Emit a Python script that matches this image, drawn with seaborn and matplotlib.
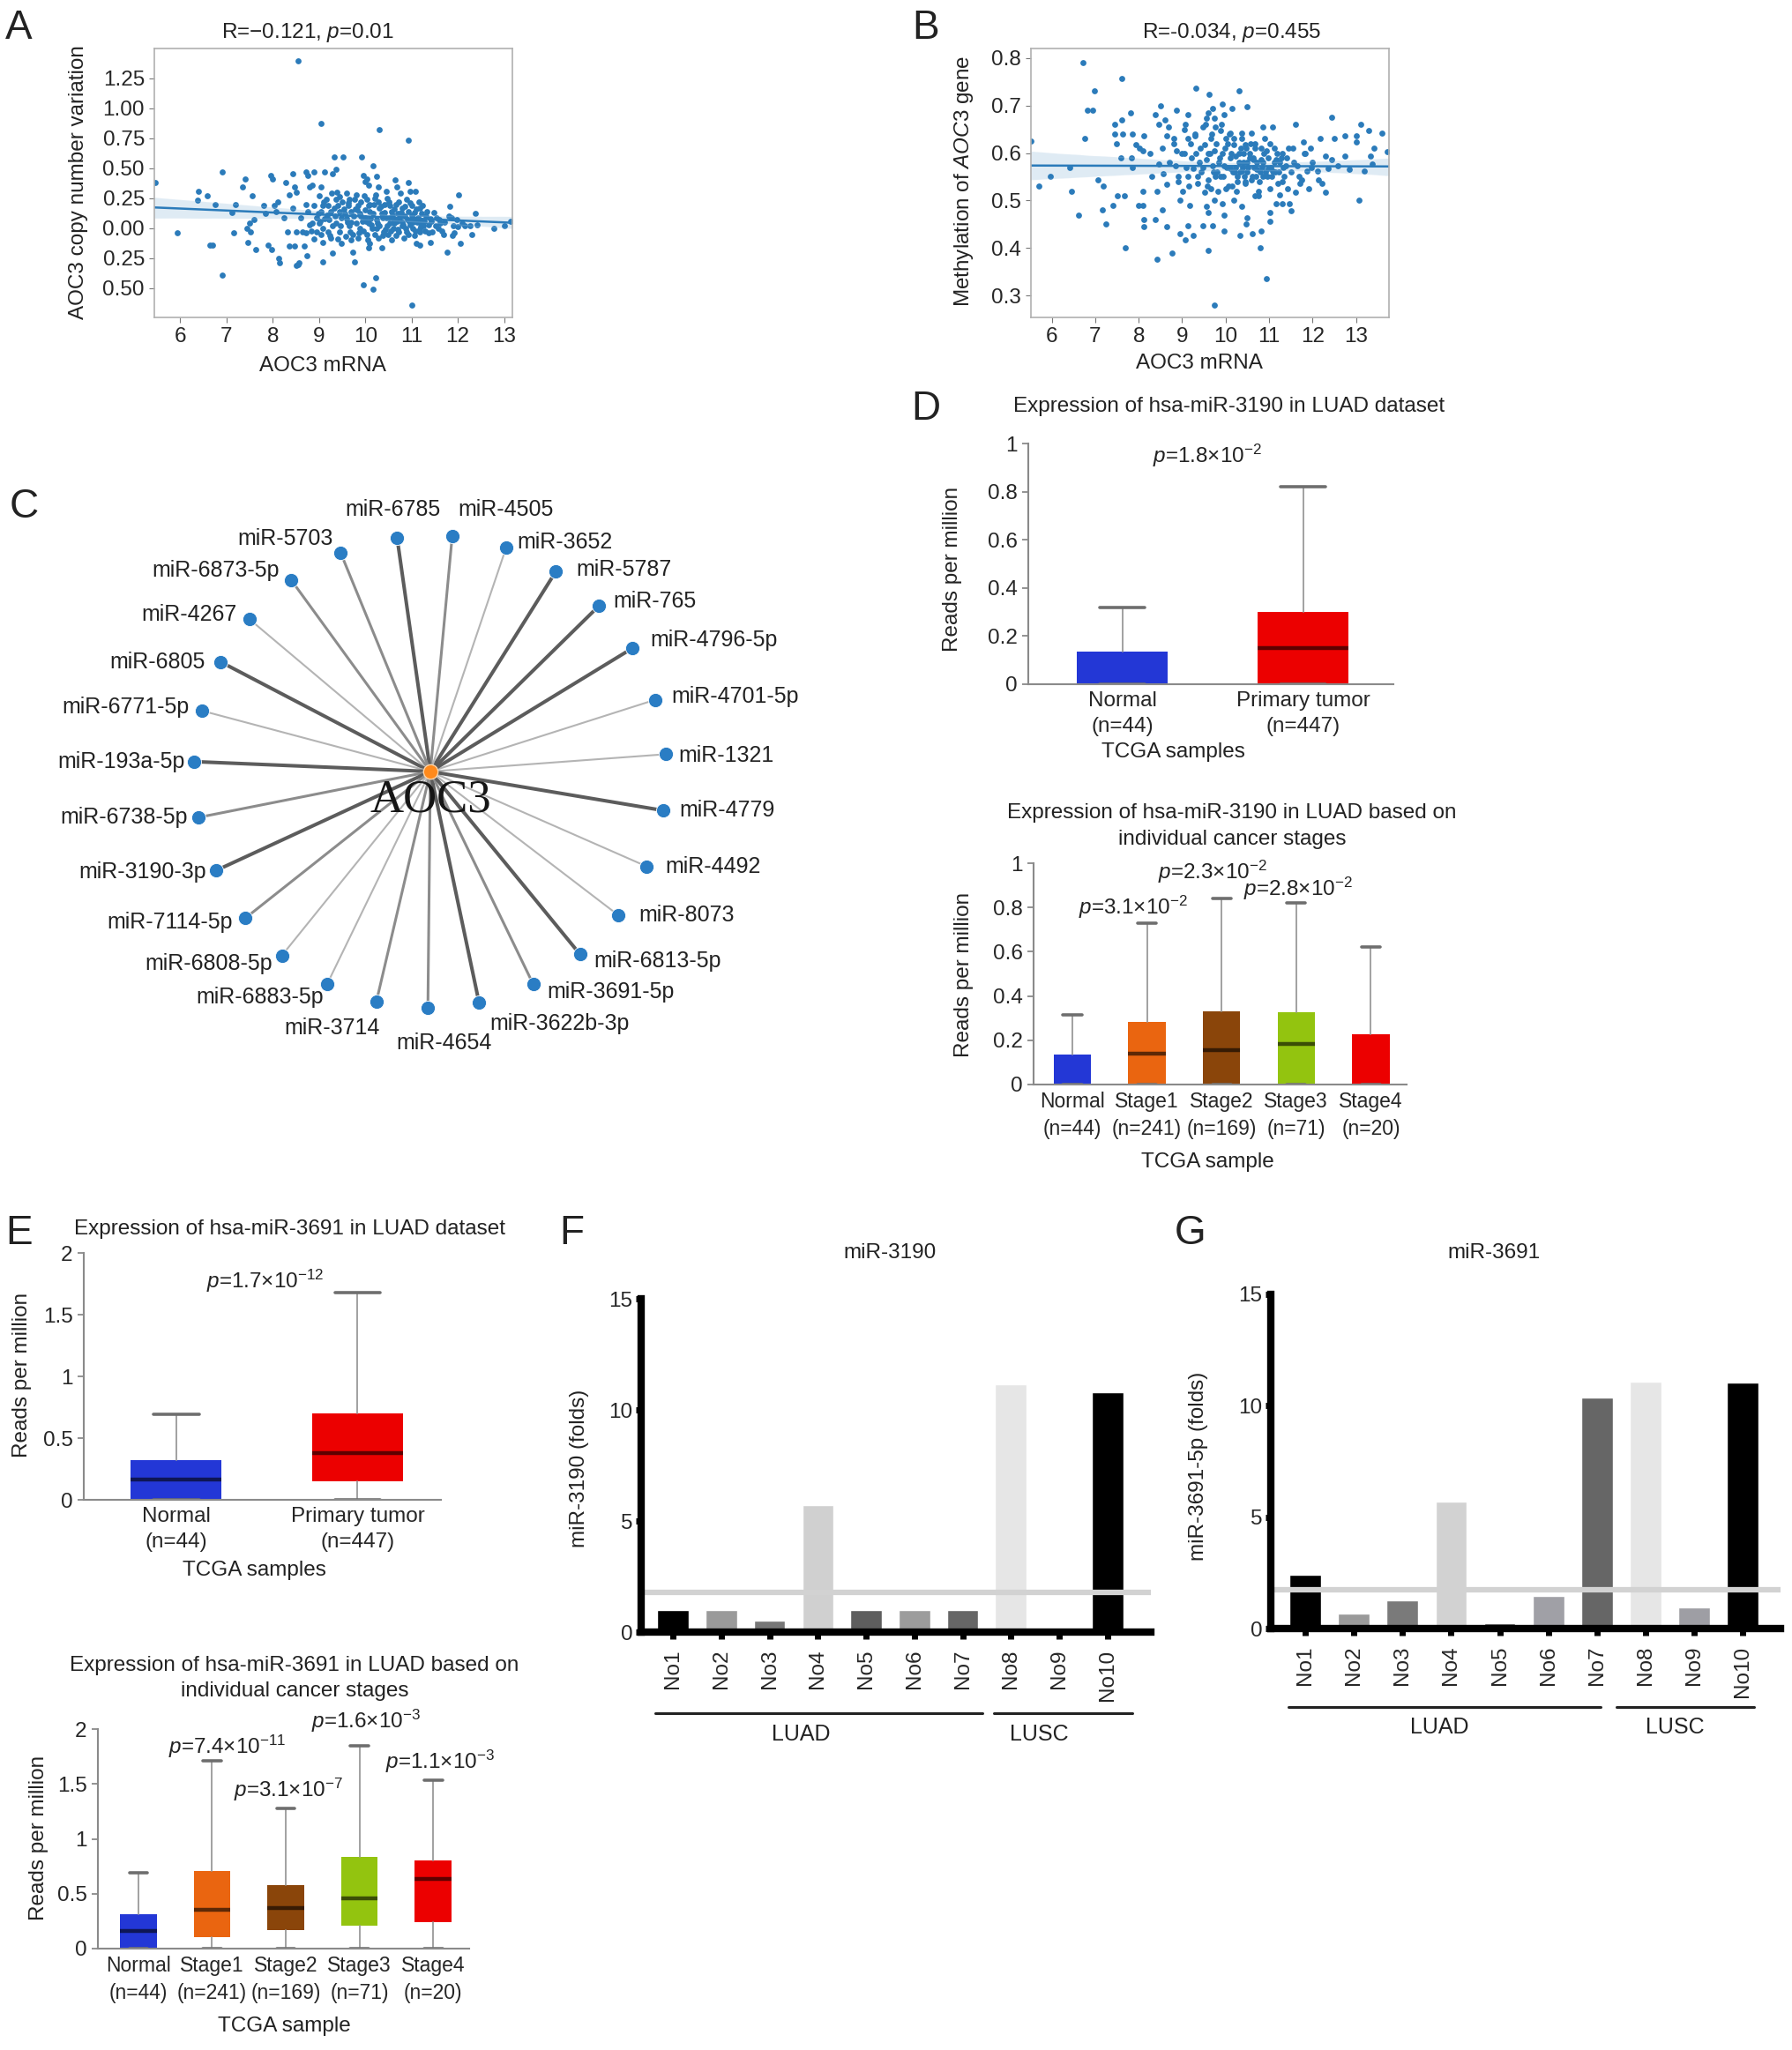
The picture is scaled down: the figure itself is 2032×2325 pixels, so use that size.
import numpy as np
import pandas as pd
import matplotlib
matplotlib.use('Agg')
import matplotlib.pyplot as plt
import matplotlib.transforms as mtransforms
import seaborn as sns

sns.set_style('ticks')
plt.rcParams['font.family'] = ['Liberation Sans', 'DejaVu Sans']
plt.rcParams['mathtext.fontset'] = 'custom'
plt.rcParams['mathtext.rm'] = 'Liberation Sans'
plt.rcParams['mathtext.it'] = 'Liberation Sans:italic'
plt.rcParams['mathtext.bf'] = 'Liberation Sans:bold'
plt.rcParams['text.color'] = '#222222'

# ---------------- data ----------------
# A: AOC3 mRNA vs copy number variation
a_mrna = [
    8.54, 9.05, 10.31, 10.93, 5.46, 6.91, 6.40, 6.38, 6.58, 6.76,
    5.93, 6.65, 6.70, 6.91, 7.16, 7.20, 7.12, 7.34, 7.41, 7.56,
    7.45, 7.49, 7.52, 7.47, 7.63, 7.60, 7.81, 7.85, 7.89, 7.96,
    8.00, 8.03, 8.10, 8.07, 7.98, 8.13, 8.14, 8.28, 8.36, 8.25,
    8.32, 8.36, 8.43, 8.47, 8.50, 8.43, 8.50, 8.47, 8.54, 8.50,
    8.57, 8.61, 8.65, 8.68, 8.72, 8.76, 8.79, 8.72, 8.76, 8.79,
    8.72, 8.73, 8.90, 8.86, 8.90, 8.94, 8.86, 8.94, 8.90, 9.05,
    9.01, 9.08, 9.05, 9.12, 9.01, 9.08, 9.05, 9.08, 9.08, 9.12,
    9.30, 9.33, 9.52, 9.37, 9.19, 9.26, 9.22, 9.30, 9.19, 9.26,
    9.30, 9.37, 9.41, 9.44, 9.48, 9.37, 9.44, 9.41, 9.48, 9.59,
    9.66, 9.63, 9.70, 9.59, 9.66, 9.73, 9.70, 9.72, 9.77, 9.81,
    9.84, 9.88, 9.81, 9.88, 9.84, 9.92, 9.95, 9.99, 10.03, 10.07,
    9.95, 10.17, 10.23, 10.03, 10.07, 10.10, 9.99, 10.07, 10.14, 10.03,
    10.10, 10.07, 10.17, 10.24, 10.28, 10.28, 10.31, 10.35, 10.24, 10.31,
    10.39, 10.28, 10.35, 10.46, 10.53, 10.57, 10.46, 10.53, 10.61, 10.50,
    10.57, 10.64, 10.68, 10.75, 10.72, 10.79, 10.75, 10.68, 10.79, 10.72,
    10.83, 10.93, 10.97, 10.90, 11.01, 10.93, 11.04, 10.97, 11.08, 10.93,
    11.00, 11.11, 11.18, 11.08, 11.15, 11.18, 11.22, 11.15, 11.26, 11.18,
    11.33, 11.40, 11.37, 11.44, 11.40, 11.55, 11.62, 11.58, 11.69, 11.76,
    11.83, 11.86, 11.90, 11.93, 12.02, 11.98, 12.09, 12.06, 12.16, 12.27,
    12.31, 12.38, 12.42, 12.78, 13.00, 13.15,
    9.50, 9.55, 9.62, 9.75, 9.78, 9.90, 9.93, 9.96, 10.00, 10.12,
    10.18, 10.20, 10.22, 10.38, 10.42, 10.44, 10.48, 10.60, 10.62, 10.66,
    10.70, 10.80, 10.86, 10.88, 10.95, 11.02, 11.06, 11.12, 11.20, 11.25,
    11.30, 9.35, 9.28, 9.15, 8.98, 8.84, 9.45, 9.68, 10.25, 10.52,
    9.02, 9.10, 9.18, 9.24, 9.32, 9.39, 9.46, 9.53, 9.57, 9.64,
    9.69, 9.76, 9.83, 9.86, 9.91, 9.97, 10.02, 10.05, 10.09, 10.13,
    10.16, 10.21, 10.27, 10.33, 10.37, 10.41, 10.47, 10.51, 10.55, 10.59,
    10.63, 10.67, 10.71, 10.74, 10.78, 10.82, 10.85, 10.89, 10.92, 10.96,
    11.00, 11.03, 11.07, 11.10, 11.14, 11.17, 11.21, 11.24, 11.28, 11.32,
    11.36, 11.42, 11.48, 11.52, 11.60, 11.66, 11.72, 11.80, 11.88, 12.00]
a_cnv = [
    1.39, 0.87, 0.82, 0.73, 0.38, 0.47, 0.31, 0.23, 0.27, 0.20,
    -0.04, -0.14, -0.14, -0.39, -0.04, 0.20, 0.13, 0.34, 0.41, 0.27,
    0.00, 0.04, -0.03, -0.12, -0.18, 0.07, 0.19, 0.12, -0.14, 0.44,
    0.41, 0.19, 0.22, 0.14, -0.18, -0.25, -0.29, 0.38, 0.28, 0.09,
    -0.03, -0.15, 0.45, 0.34, 0.30, 0.17, -0.03, -0.15, -0.30, -0.31,
    -0.29, 0.09, -0.03, -0.15, 0.47, 0.44, 0.34, 0.20, 0.14, 0.03,
    -0.04, -0.23, 0.47, 0.36, 0.19, 0.09, 0.04, -0.03, -0.09, 0.34,
    0.27, 0.19, 0.14, 0.08, 0.04, 0.00, -0.05, -0.12, -0.28, 0.47,
    0.45, 0.59, 0.59, 0.49, 0.19, 0.14, 0.07, 0.02, -0.03, -0.08,
    -0.21, 0.24, 0.19, 0.14, 0.09, 0.04, -0.03, -0.09, -0.13, 0.29,
    0.24, 0.19, 0.14, 0.08, 0.02, -0.05, -0.10, -0.20, -0.28, 0.28,
    0.19, 0.12, 0.04, 0.00, -0.08, 0.59, 0.44, 0.39, 0.41, 0.36,
    -0.47, -0.51, -0.41, 0.24, 0.19, 0.14, 0.09, 0.04, 0.00, -0.05,
    -0.13, -0.16, 0.52, 0.43, 0.34, 0.22, 0.17, 0.12, 0.07, 0.02,
    -0.03, -0.08, -0.16, 0.31, 0.19, 0.14, 0.09, 0.04, 0.00, -0.05,
    -0.10, 0.40, 0.34, 0.29, 0.22, 0.17, 0.11, 0.06, 0.02, -0.03,
    -0.08, 0.38, 0.31, 0.24, 0.19, 0.14, 0.08, 0.03, -0.02, -0.05,
    -0.64, -0.13, -0.14, 0.31, 0.22, 0.17, 0.12, 0.07, 0.02, -0.03,
    0.14, 0.08, 0.03, -0.03, -0.12, 0.09, 0.04, 0.00, -0.05, -0.20,
    0.18, 0.09, 0.02, -0.04, 0.28, 0.07, 0.04, -0.13, 0.02, 0.02,
    -0.05, 0.12, 0.03, 0.00, 0.02, 0.06,
    0.22, 0.12, 0.05, 0.10, 0.16, 0.22, 0.06, -0.02, 0.15, 0.08,
    0.20, -0.05, 0.28, 0.09, 0.20, -0.01, 0.25, 0.08, 0.16, -0.06,
    0.12, 0.05, 0.10, 0.00, 0.06, 0.00, 0.13, 0.05, 0.01, 0.06,
    -0.02, 0.10, 0.29, 0.24, 0.12, -0.02, 0.26, -0.03, 0.00, 0.09,
    0.06, 0.22, 0.11, -0.06, 0.17, 0.30, 0.02, 0.16, -0.07, 0.21,
    0.05, 0.24, 0.15, -0.04, 0.10, 0.27, 0.06, -0.10, 0.20, 0.03,
    0.12, 0.25, 0.04, 0.18, -0.06, 0.13, 0.02, 0.22, -0.02, 0.11,
    0.04, 0.20, -0.01, 0.09, 0.13, 0.03, 0.18, -0.03, 0.07, 0.21,
    0.11, 0.05, -0.06, 0.16, 0.09, -0.01, 0.04, 0.19, 0.06, 0.10,
    -0.04, 0.06, 0.13, 0.02, 0.07, -0.02, 0.05, 0.10, -0.06, 0.01]

# B: AOC3 mRNA vs methylation
b_mrna = [
    6.71, 7.62, 6.98, 6.95, 6.81, 6.75, 5.52, 6.42, 5.97, 5.71,
    6.45, 6.62, 7.06, 7.19, 7.16, 7.24, 7.41, 7.50, 7.67, 7.70,
    7.45, 7.62, 7.45, 7.64, 7.49, 7.58, 7.82, 7.86, 7.84, 7.85,
    7.94, 8.01, 8.12, 8.09, 8.00, 8.10, 8.12, 8.12, 8.09, 8.27,
    8.31, 8.42, 8.39, 8.42, 8.54, 8.50, 8.39, 8.46, 8.61, 8.69,
    8.65, 8.54, 8.46, 8.57, 8.65, 8.65, 8.76, 8.80, 8.87, 8.84,
    8.87, 8.91, 8.95, 8.95, 9.02, 9.06, 9.14, 9.06, 9.10, 9.14,
    9.17, 9.08, 9.14, 9.14, 9.29, 9.32, 9.25, 9.36, 9.26, 9.32,
    9.47, 9.55, 9.59, 9.62, 9.51, 9.55, 9.44, 9.59, 9.51, 9.55,
    9.59, 9.47, 9.59, 9.70, 9.74, 9.77, 9.66, 9.74, 9.70, 9.77,
    9.66, 9.74, 9.70, 9.75, 9.92, 9.96, 9.89, 10.00, 9.92, 9.96,
    9.89, 10.00, 9.92, 9.96, 9.96, 10.15, 10.30, 10.11, 10.19, 10.22,
    10.11, 10.26, 10.15, 10.19, 10.34, 10.49, 10.37, 10.45, 10.41, 10.49,
    10.37, 10.45, 10.37, 10.49, 10.47, 10.62, 10.60, 10.67, 10.64, 10.71,
    10.60, 10.67, 10.75, 10.79, 10.82, 10.86, 10.90, 10.94, 10.82, 10.97,
    10.86, 11.01, 11.01, 11.01, 10.94, 11.09, 11.12, 11.16, 11.09, 11.20,
    11.24, 11.16, 11.31, 11.39, 11.35, 11.42, 11.31, 11.50, 11.46, 11.54,
    11.61, 11.65, 11.71, 11.61, 11.80, 11.84, 11.87, 11.76, 11.95, 11.99,
    11.91, 12.11, 12.14, 12.22, 12.29, 12.18, 12.29, 12.36, 12.44, 12.51,
    12.44, 12.59, 12.74, 12.74, 12.85, 13.00, 13.00, 13.07, 13.11, 13.19,
    13.30, 13.34, 13.41, 13.37, 13.60, 13.71,
    10.30, 10.40, 10.50, 10.55, 10.65, 10.70, 10.80, 10.85, 10.95, 11.05,
    11.15, 11.25, 10.20, 10.10, 10.35, 10.58, 9.85, 9.80, 11.40, 11.50,
    10.45, 10.75, 11.30, 10.25, 9.60, 9.40, 9.20, 10.05,
    8.70, 8.80, 8.90, 9.00, 9.08, 9.16, 9.22, 9.30, 9.35, 9.42,
    9.48, 9.53, 9.58, 9.64, 9.68, 9.72, 9.78, 9.82, 9.87, 9.90,
    9.94, 9.98, 10.02, 10.06, 10.08, 10.12, 10.16, 10.18, 10.22, 10.27,
    10.31, 10.33, 10.38, 10.42, 10.44, 10.48, 10.52, 10.56, 10.61, 10.63,
    10.68, 10.72, 10.77, 10.81, 10.84, 10.88, 10.92, 10.98, 11.03, 11.07,
    11.13, 11.18, 11.22, 11.28, 11.33, 11.44, 11.56, 11.68, 11.82, 11.97]
b_meth = [
    0.790, 0.756, 0.730, 0.690, 0.690, 0.630, 0.625, 0.570, 0.550, 0.530,
    0.520, 0.470, 0.544, 0.530, 0.480, 0.450, 0.490, 0.510, 0.510, 0.400,
    0.660, 0.670, 0.640, 0.640, 0.620, 0.590, 0.685, 0.640, 0.590, 0.570,
    0.617, 0.610, 0.636, 0.605, 0.490, 0.490, 0.460, 0.445, 0.520, 0.600,
    0.550, 0.520, 0.460, 0.376, 0.480, 0.700, 0.680, 0.660, 0.670, 0.654,
    0.636, 0.610, 0.577, 0.556, 0.534, 0.446, 0.390, 0.620, 0.605, 0.574,
    0.690, 0.550, 0.500, 0.430, 0.520, 0.650, 0.630, 0.600, 0.570, 0.550,
    0.490, 0.417, 0.447, 0.680, 0.636, 0.600, 0.568, 0.537, 0.427, 0.736,
    0.654, 0.673, 0.685, 0.723, 0.617, 0.586, 0.560, 0.543, 0.518, 0.488,
    0.475, 0.447, 0.395, 0.694, 0.673, 0.654, 0.630, 0.605, 0.574, 0.550,
    0.525, 0.500, 0.447, 0.280, 0.704, 0.680, 0.648, 0.630, 0.600, 0.574,
    0.550, 0.525, 0.494, 0.470, 0.435, 0.694, 0.730, 0.642, 0.617, 0.593,
    0.568, 0.550, 0.531, 0.500, 0.426, 0.698, 0.642, 0.617, 0.600, 0.580,
    0.562, 0.537, 0.488, 0.463, 0.450, 0.430, 0.642, 0.611, 0.586, 0.565,
    0.543, 0.510, 0.510, 0.400, 0.435, 0.654, 0.630, 0.605, 0.586, 0.568,
    0.550, 0.525, 0.475, 0.457, 0.336, 0.654, 0.611, 0.586, 0.562, 0.537,
    0.512, 0.494, 0.600, 0.574, 0.550, 0.525, 0.494, 0.478, 0.494, 0.611,
    0.660, 0.574, 0.537, 0.518, 0.623, 0.600, 0.562, 0.543, 0.611, 0.580,
    0.525, 0.562, 0.543, 0.537, 0.518, 0.630, 0.593, 0.568, 0.676, 0.630,
    0.586, 0.574, 0.636, 0.593, 0.565, 0.636, 0.623, 0.500, 0.660, 0.562,
    0.648, 0.593, 0.611, 0.577, 0.642, 0.602,
    0.58, 0.57, 0.56, 0.59, 0.57, 0.55, 0.56, 0.58, 0.55, 0.57,
    0.56, 0.58, 0.56, 0.59, 0.61, 0.62, 0.58, 0.56, 0.59, 0.56,
    0.54, 0.52, 0.54, 0.52, 0.60, 0.58, 0.62, 0.62,
    0.58, 0.63, 0.54, 0.60, 0.66, 0.53, 0.59, 0.64, 0.55, 0.61,
    0.57, 0.66, 0.53, 0.60, 0.64, 0.56, 0.62, 0.52, 0.59, 0.66,
    0.55, 0.61, 0.57, 0.53, 0.64, 0.60, 0.56, 0.63, 0.57, 0.54,
    0.60, 0.56, 0.63, 0.58, 0.55, 0.61, 0.57, 0.60, 0.55, 0.59,
    0.62, 0.58, 0.54, 0.61, 0.57, 0.60, 0.56, 0.59, 0.62, 0.55,
    0.58, 0.60, 0.56, 0.59, 0.57, 0.61, 0.58, 0.55, 0.60, 0.57]

# C: AOC3 - miRNA network (node angle in degrees, edge weight 1-3)
mirnas = ['miR-1321', 'miR-4701-5p', 'miR-4796-5p', 'miR-765', 'miR-5787',
          'miR-3652', 'miR-4505', 'miR-6785', 'miR-5703', 'miR-6873-5p',
          'miR-4267', 'miR-6805', 'miR-6771-5p', 'miR-193a-5p', 'miR-6738-5p',
          'miR-3190-3p', 'miR-7114-5p', 'miR-6808-5p', 'miR-6883-5p', 'miR-3714',
          'miR-4654', 'miR-3622b-3p', 'miR-3691-5p', 'miR-6813-5p', 'miR-8073',
          'miR-4492', 'miR-4779']
mirna_angle = [4.2, 17.7, 31.4, 44.5, 57.9, 71.3, 84.7, 98.1, 112.3, 126.0,
               139.9, 152.4, 165.1, 177.6, 191.2, 204.8, 218.4, 231.1, 244.1, 256.8,
               269.4, 281.9, 295.8, 309.3, 322.6, 336.3, 350.5]
edge_weight = [1, 1, 3, 3, 3, 1, 2, 3, 2, 2, 1, 3, 1, 3, 2, 3, 2, 1, 1, 2, 2, 3, 2, 3, 1, 1, 3]

# D / E: box plot summaries (reads per million)
pair_groups = ['Normal\n(n=44)', 'Primary tumor\n(n=447)']
stage_groups = ['Normal\n(n=44)', 'Stage1\n(n=241)', 'Stage2\n(n=169)',
                'Stage3\n(n=71)', 'Stage4\n(n=20)']

d1_q1 = [0.0, 0.0]
d1_med = [0.0, 0.15]
d1_q3 = [0.135, 0.30]
d1_lo = [0.0, 0.0]
d1_hi = [0.32, 0.82]

d2_q1 = [0.0, 0.0, 0.0, 0.0, 0.0]
d2_med = [0.0, 0.14, 0.156, 0.183, 0.0]
d2_q3 = [0.134, 0.282, 0.332, 0.325, 0.229]
d2_lo = [0.0, 0.0, 0.0, 0.0, 0.0]
d2_hi = [0.315, 0.73, 0.841, 0.819, 0.62]

e1_q1 = [0.0, 0.151]
e1_med = [0.163, 0.378]
e1_q3 = [0.318, 0.702]
e1_lo = [0.0, 0.0]
e1_hi = [0.69, 1.68]

e2_q1 = [0.0, 0.106, 0.172, 0.211, 0.243]
e2_med = [0.159, 0.351, 0.37, 0.454, 0.634]
e2_q3 = [0.317, 0.708, 0.581, 0.832, 0.806]
e2_lo = [0.0, 0.0, 0.0, 0.0, 0.0]
e2_hi = [0.687, 1.712, 1.276, 1.844, 1.538]

# F / G: qPCR folds
samples = ['No1', 'No2', 'No3', 'No4', 'No5', 'No6', 'No7', 'No8', 'No9', 'No10']
f_fold = [1.0, 1.0, 0.5, 5.7, 1.0, 1.0, 1.0, 11.15, 0.0, 10.8]
g_fold = [2.4, 0.68, 1.28, 5.7, 0.25, 1.45, 10.35, 11.1, 0.95, 11.05]
f_cut = 1.8
g_cut = 1.75

# ---------------- figure ----------------
W, H = 2032, 2325
fig = plt.figure(figsize=(W / 100, H / 100), dpi=100)
fig.patch.set_facecolor('white')


def box(l, t, r, b):
    return [l / W, 1 - b / H, (r - l) / W, (b - t) / H]


def ftext(x, y, s, **kw):
    kw.setdefault('ha', 'center')
    kw.setdefault('va', 'center')
    fig.text(x / W, 1 - y / H, s, **kw)


FS = 17.5

# panel letters
for lab, x, y in [('A', 21, 32), ('B', 1050, 32), ('C', 27, 575), ('D', 1050, 464),
                  ('E', 22, 1399), ('F', 648, 1399), ('G', 1350, 1399)]:
    ftext(x, y, lab, fontsize=33)


def scatter_panel(rect, x, y, xlim, ylim, yticks, ylabs):
    ax = fig.add_axes(box(*rect))
    ax.set_xlim(xlim)
    ax.set_ylim(ylim)
    sns.regplot(x=np.array(x), y=np.array(y), ax=ax, truncate=False, seed=1,
                color='#2b7bba', scatter_kws=dict(s=24, linewidths=0, alpha=1),
                line_kws=dict(lw=1.8))
    ax.set_xlim(xlim)
    ax.set_ylim(ylim)
    ax.set_xticks(range(6, 14))
    ax.set_yticks(yticks)
    ax.set_yticklabels(ylabs)
    ax.tick_params(labelsize=FS, length=4, color='#777777', pad=4)
    for sp in ax.spines.values():
        sp.set_color('#b0b0b0')
        sp.set_linewidth(1.2)
    return ax


scatter_panel((175, 55, 581, 360), a_mrna, a_cnv, (5.44, 13.18), (-0.743, 1.496),
              [-0.5, -0.25, 0, 0.25, 0.5, 0.75, 1.0, 1.25],
              ['0.50', '0.25', '0.00', '0.25', '0.50', '0.75', '1.00', '1.25'])
ftext(349, 37, 'R=\u22120.121, $p$=0.01', fontsize=FS)
ftext(366, 415, 'AOC3 mRNA', fontsize=FS)
ftext(89, 207, 'AOC3 copy number variation', fontsize=FS, rotation=90)

scatter_panel((1169, 55, 1575, 360), b_mrna, b_meth, (5.52, 13.76), (0.254, 0.82),
              [0.3, 0.4, 0.5, 0.6, 0.7, 0.8], ['0.3', '0.4', '0.5', '0.6', '0.7', '0.8'])
ftext(1397, 37, 'R=-0.034, $p$=0.455', fontsize=FS)
ftext(1360, 412, 'AOC3 mRNA', fontsize=FS)
ftext(1093, 205, 'Methylation of $\\mathit{AOC3}$ gene', fontsize=FS, rotation=90)

# ---------------- C network ----------------
cx, cy, rad = 488, 875, 268
axc = fig.add_axes(box(cx - 340, cy - 340, cx + 340, cy + 340))
lim = 340 / rad
axc.set_xlim(-lim, lim)
axc.set_ylim(-lim, lim)
axc.axis('off')
th = np.deg2rad(mirna_angle)
nx, ny = np.cos(th), np.sin(th)
for xx, yy, w in zip(nx, ny, edge_weight):
    col = {1: '#b4b4b4', 2: '#8c8c8c', 3: '#5c5c5c'}[w]
    axc.plot([0, xx], [0, yy], color=col, lw=0.8 + 0.7 * w, zorder=1,
             solid_capstyle='round')
net = pd.DataFrame({'x': nx, 'y': ny, 'name': mirnas})
sns.scatterplot(data=net, x='x', y='y', ax=axc, s=135, color='#2a7dc4',
                edgecolor='white', linewidth=0.6, zorder=3)
axc.scatter([0], [0], s=140, color='#ff8a1c', edgecolor='#ffd5a8', linewidth=1, zorder=4)
axc.set_xlabel('')
axc.set_ylabel('')
label_off = [(14, -2, 'left'), (18, 4, 'left'), (21, 9, 'left'), (16, 5, 'left'),
             (23, 2, 'left'), (12, 6, 'left'), (7, 30, 'left'), (-5, 32, 'center'),
             (-9, 16, 'right'), (-14, 11, 'right'), (-14, 5, 'right'), (-18, 0, 'right'),
             (-14, 4, 'right'), (-11, 0, 'right'), (-12, 0, 'right'), (-11, -2, 'right'),
             (-14, -5, 'right'), (-11, -9, 'right'), (-4, -15, 'right'), (4, -30, 'right'),
             (18, -40, 'center'), (12, -24, 'left'), (16, -9, 'left'), (16, -8, 'left'),
             (23, 0, 'left'), (21, 0, 'left'), (18, 0, 'left')]
for name, xx, yy, (dx, dy, ha) in zip(mirnas, nx, ny, label_off):
    axc.annotate(name, (xx, yy), xytext=(dx * 0.72, dy * 0.72), textcoords='offset points',
                 ha=ha, va='center', fontsize=18)
axc.text(0, -0.12, 'AOC3', family='Liberation Serif', fontsize=38, ha='center',
         va='center', color='#151515', zorder=5)


# ---------------- D / E box panels ----------------
BOX_COLORS = ['#2337d6', '#ea6510', '#8a450a', '#93c40f', '#ec0000']


def box_panel(rect, xlim, ymax, yticks, ylabs, groups, q1, med, q3, lo, hi, colors,
              width=0.5, xfs=FS):
    ax = fig.add_axes(box(*rect))
    stats = [dict(q1=a, med=m, q3=b, whislo=l, whishi=h, fliers=[])
             for a, m, b, l, h in zip(q1, med, q3, lo, hi)]
    res = ax.bxp(stats, positions=range(len(stats)), widths=width, patch_artist=True,
                 showfliers=False, manage_ticks=False, capwidths=width * 0.5,
                 whiskerprops=dict(color='#9a9a9a', lw=1.3),
                 capprops=dict(color='#6e6e6e', lw=2.6),
                 medianprops=dict(color='#000000', alpha=0.6, lw=3.2,
                                  solid_capstyle='butt'))
    for patch, c in zip(res['boxes'], colors):
        patch.set_facecolor(c)
        patch.set_edgecolor(c)
        patch.set_linewidth(0)
    for line, m in zip(res['medians'], med):
        if m == 0:
            line.set_visible(False)
    ax.set_xlim(xlim)
    ax.set_ylim(0, ymax)
    ax.set_yticks(yticks)
    ax.set_yticklabels(ylabs)
    ax.set_xticks(range(len(groups)))
    ax.set_xticklabels(groups, linespacing=1.4)
    ax.tick_params(axis='y', labelsize=FS, length=5, width=1.3, color='#8a8a8a', pad=4)
    ax.tick_params(axis='x', labelsize=xfs, length=0, pad=6)
    for s in ['top', 'right']:
        ax.spines[s].set_visible(False)
    for s in ['left', 'bottom']:
        ax.spines[s].set_color('#8a8a8a')
        ax.spines[s].set_linewidth(1.5)
    return ax


axd1 = box_panel((1166, 503, 1580, 776), (-0.52, 1.5), 1.0, [0, 0.2, 0.4, 0.6, 0.8, 1.0],
                 ['0', '0.2', '0.4', '0.6', '0.8', '1'], pair_groups,
                 d1_q1, d1_med, d1_q3, d1_lo, d1_hi, [BOX_COLORS[0], BOX_COLORS[4]])
axd1.text(0.47, 0.95, '$p$=1.8×10$^{-2}$', fontsize=FS, ha='center', va='center')
ftext(1394, 461, 'Expression of hsa-miR-3190 in LUAD dataset', fontsize=FS)
ftext(1330, 853, 'TCGA samples', fontsize=FS)
ftext(1080, 645, 'Reads per million', fontsize=FS, rotation=90)

axd2 = box_panel((1172, 979, 1595, 1230), (-0.52, 4.48), 1.0, [0, 0.2, 0.4, 0.6, 0.8, 1.0],
                 ['0', '0.2', '0.4', '0.6', '0.8', '1'], stage_groups,
                 d2_q1, d2_med, d2_q3, d2_lo, d2_hi, BOX_COLORS, xfs=16.5)
for xx, yy, s in [(0.81, 0.80, '$p$=3.1×10$^{-2}$'), (1.88, 0.96, '$p$=2.3×10$^{-2}$'),
                  (3.02, 0.885, '$p$=2.8×10$^{-2}$')]:
    axd2.text(xx, yy, s, fontsize=FS, ha='center', va='center')
ftext(1397, 922, 'Expression of hsa-miR-3190 in LUAD based on', fontsize=FS)
ftext(1397, 952, 'individual cancer stages', fontsize=FS)
ftext(1369, 1318, 'TCGA sample', fontsize=FS)
ftext(1093, 1105, 'Reads per million', fontsize=FS, rotation=90)

axe1 = box_panel((95, 1421, 500, 1701), (-0.51, 1.46), 2.0, [0, 0.5, 1, 1.5, 2],
                 ['0', '0.5', '1', '1.5', '2'], pair_groups,
                 e1_q1, e1_med, e1_q3, e1_lo, e1_hi, [BOX_COLORS[0], BOX_COLORS[4]])
axe1.text(0.49, 1.77, '$p$=1.7×10$^{-12}$', fontsize=FS, ha='center', va='center')
ftext(329, 1394, 'Expression of hsa-miR-3691 in LUAD dataset', fontsize=FS)
ftext(288, 1781, 'TCGA samples', fontsize=FS)
ftext(25, 1559, 'Reads per million', fontsize=FS, rotation=90)

axe2 = box_panel((111, 1961, 532, 2210), (-0.55, 4.49), 2.0, [0, 0.5, 1, 1.5, 2],
                 ['0', '0.5', '1', '1.5', '2'], stage_groups,
                 e2_q1, e2_med, e2_q3, e2_lo, e2_hi, BOX_COLORS, xfs=16.5)
for xx, yy, s in [(1.21, 1.84, '$p$=7.4×10$^{-11}$'), (2.03, 1.45, '$p$=3.1×10$^{-7}$'),
                  (3.09, 2.07, '$p$=1.6×10$^{-3}$'), (4.09, 1.70, '$p$=1.1×10$^{-3}$')]:
    axe2.text(xx, yy, s, fontsize=FS, ha='center', va='center')
ftext(334, 1889, 'Expression of hsa-miR-3691 in LUAD based on', fontsize=FS)
ftext(334, 1918, 'individual cancer stages', fontsize=FS)
ftext(322, 2298, 'TCGA sample', fontsize=FS)
ftext(44, 2084, 'Reads per million', fontsize=FS, rotation=90)


# ---------------- F / G bar panels ----------------
def bar_panel(rect, folds, colors, cut, xlim, luad, lusc, line_y, lab_y, lab_x):
    ax = fig.add_axes(box(*rect))
    df = pd.DataFrame({'sample': samples, 'fold': folds})
    sns.barplot(data=df, x='sample', y='fold', hue='sample',
                palette=dict(zip(samples, colors)), legend=False, width=0.65,
                saturation=1, ax=ax, zorder=2)
    ax.axhline(cut, color='#d2d2d2', lw=4.5, zorder=4)
    ax.set_xlim(xlim)
    ax.set_ylim(0, 15)
    ax.set_yticks([0, 5, 10, 15])
    ax.set_xlabel('')
    ax.set_ylabel('')
    for s in ['top', 'right']:
        ax.spines[s].set_visible(False)
    for s in ['left', 'bottom']:
        ax.spines[s].set_color('black')
        ax.spines[s].set_linewidth(6)
        ax.spines[s].set_zorder(5)
    ax.tick_params(axis='y', labelsize=FS, width=5, length=4, color='black', pad=3)
    ax.tick_params(axis='x', labelsize=17.5, width=5, length=6, color='black', pad=8,
                   labelrotation=90)
    tr = mtransforms.blended_transform_factory(ax.transData, ax.transAxes)
    for (x0, x1), name, lx in zip([luad, lusc], ['LUAD', 'LUSC'], lab_x):
        ax.plot([x0, x1], [line_y, line_y], transform=tr, color='#222222', lw=2.2,
                clip_on=False)
        ax.text(lx, lab_y, name, transform=tr, fontsize=18, ha='center', va='center')
    return ax


bar_panel((727, 1473, 1305, 1851), f_fold,
          ['#000000', '#9a9a9a', '#777777', '#d0d0d0', '#5e5e5e', '#9c9c9c', '#666666',
           '#e6e6e6', '#999999', '#000000'],
          f_cut, (-0.66, 9.9), (-0.37, 6.41), (6.65, 9.51), -0.243, -0.307, (2.65, 7.59))
ftext(1009, 1421, 'miR-3190', fontsize=17.5)
ftext(657, 1665, 'miR-3190 (folds)', fontsize=17.5, rotation=90)

bar_panel((1441, 1468, 2019, 1847), g_fold,
          ['#000000', '#9a9a9a', '#7a7a7a', '#d2d2d2', '#555555', '#a0a0a6', '#666666',
           '#e6e6e6', '#9e9ea4', '#000000'],
          g_cut, (-0.71, 9.78), (-0.35, 6.07), (6.40, 9.23), -0.235, -0.296, (2.77, 7.6))
ftext(1694, 1421, 'miR-3691', fontsize=17.5)
ftext(1359, 1663, 'miR-3691-5p (folds)', fontsize=17.5, rotation=90)

fig.savefig('out.png', dpi=100, facecolor='white')
